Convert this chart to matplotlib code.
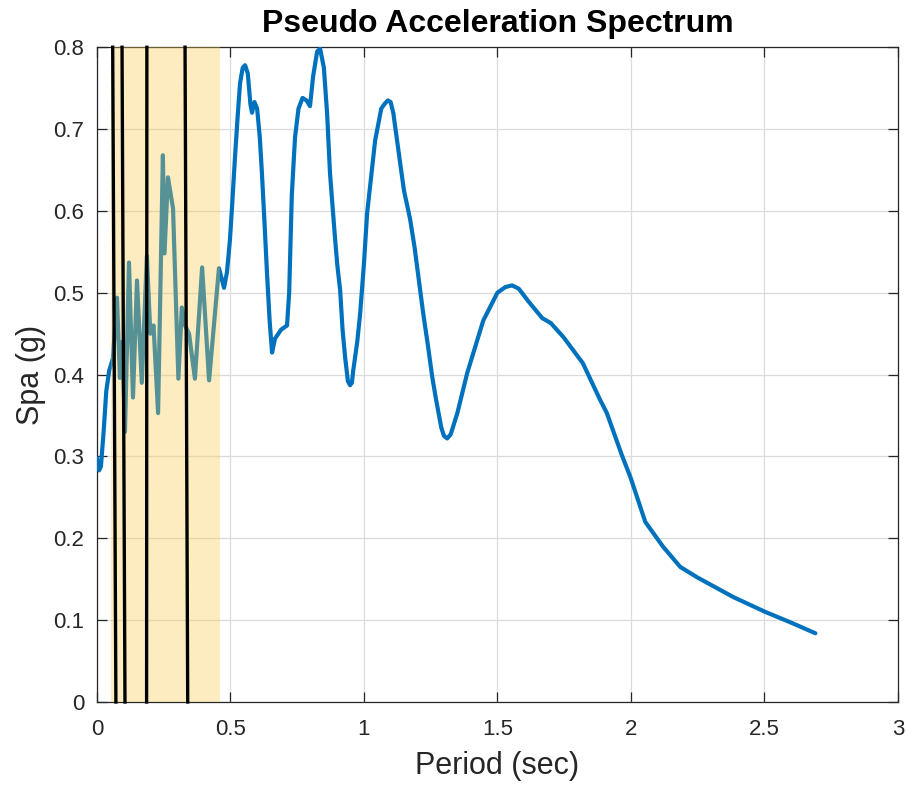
import matplotlib
matplotlib.use("Agg")
import matplotlib.pyplot as plt
from matplotlib.ticker import FuncFormatter

plt.rcParams['font.family'] = ['Liberation Sans', 'DejaVu Sans']

# spectrum
period = [0.000, 0.008, 0.015, 0.025, 0.035, 0.046, 0.060, 0.075, 0.086, 0.095, 0.105,
          0.120, 0.135, 0.150, 0.168, 0.187, 0.200, 0.212, 0.229, 0.247, 0.253, 0.266,
          0.285, 0.305, 0.318, 0.330, 0.345, 0.367, 0.394, 0.420, 0.457, 0.476, 0.487,
          0.498, 0.507, 0.517, 0.527, 0.536, 0.546, 0.555, 0.565, 0.575, 0.581, 0.590,
          0.600, 0.610, 0.618, 0.627, 0.637, 0.647, 0.656, 0.667, 0.690, 0.712, 0.720,
          0.730, 0.742, 0.755, 0.770, 0.785, 0.798, 0.810, 0.825, 0.836, 0.850, 0.862,
          0.873, 0.891, 0.900, 0.911, 0.920, 0.930, 0.940, 0.948, 0.955, 0.960, 0.975,
          0.986, 1.000, 1.012, 1.042, 1.065, 1.078, 1.090, 1.100, 1.110, 1.136, 1.150,
          1.173, 1.190, 1.222, 1.240, 1.256, 1.270, 1.290, 1.300, 1.312, 1.325, 1.350,
          1.387, 1.447, 1.500, 1.530, 1.555, 1.580, 1.615, 1.668, 1.700, 1.747, 1.820,
          1.885, 1.910, 1.968, 1.998, 2.054, 2.120, 2.185, 2.250, 2.385, 2.504, 2.600,
          2.691]
spa = [0.298, 0.283, 0.288, 0.330, 0.380, 0.405, 0.420, 0.494, 0.396, 0.440, 0.330,
       0.537, 0.372, 0.515, 0.390, 0.545, 0.450, 0.460, 0.353, 0.668, 0.548, 0.641,
       0.603, 0.395, 0.482, 0.460, 0.450, 0.395, 0.531, 0.393, 0.530, 0.506, 0.525,
       0.564, 0.610, 0.665, 0.715, 0.756, 0.775, 0.778, 0.768, 0.730, 0.720, 0.733,
       0.725, 0.690, 0.646, 0.590, 0.524, 0.465, 0.427, 0.444, 0.455, 0.460, 0.500,
       0.620, 0.690, 0.725, 0.738, 0.735, 0.728, 0.765, 0.795, 0.798, 0.775, 0.720,
       0.646, 0.570, 0.535, 0.503, 0.455, 0.420, 0.392, 0.387, 0.390, 0.405, 0.440,
       0.475, 0.535, 0.597, 0.686, 0.725, 0.731, 0.735, 0.733, 0.720, 0.658, 0.625,
       0.590, 0.555, 0.475, 0.435, 0.397, 0.370, 0.335, 0.325, 0.322, 0.327, 0.353,
       0.402, 0.466, 0.500, 0.507, 0.509, 0.505, 0.490, 0.469, 0.463, 0.446, 0.414,
       0.369, 0.353, 0.300, 0.275, 0.220, 0.190, 0.165, 0.152, 0.128, 0.110, 0.097,
       0.084]

# vertical marker lines (bottom / top x, picture is slightly skewed)
mark_bottom = [0.071, 0.105, 0.186, 0.340]
mark_top = [0.059, 0.094, 0.187, 0.330]

# shaded period band
band = (0.052, 0.460)

fig = plt.figure(figsize=(9.06, 7.87), dpi=100)
ax = fig.add_axes([0.107, 0.108, 0.884, 0.832])

ax.plot(period, spa, color='#0072BD', linewidth=3.0, zorder=3,
        solid_joinstyle='round', solid_capstyle='round')
ax.axvspan(band[0], band[1], color='#F7CB4D', alpha=0.35, linewidth=0, zorder=4)
for xb, xt in zip(mark_bottom, mark_top):
    ax.plot([xb, xt], [0, 0.8], color='black', linewidth=2.4, zorder=5, clip_on=False)

ax.set_xlim(0, 3)
ax.set_ylim(0, 0.8)
ax.set_xticks([0, 0.5, 1, 1.5, 2, 2.5, 3])
ax.set_yticks([0, 0.1, 0.2, 0.3, 0.4, 0.5, 0.6, 0.7, 0.8])
ax.xaxis.set_major_formatter(FuncFormatter(lambda v, p: '%g' % v))
ax.yaxis.set_major_formatter(FuncFormatter(lambda v, p: '%g' % v))

ax.grid(True, color='#DCDCDC', linewidth=0.9)
ax.set_axisbelow(True)
ax.tick_params(direction='in', length=7, width=0.9, top=True, right=True,
               labelsize=16, colors='#262626')
ax.tick_params(axis='x', pad=12)
ax.tick_params(axis='y', pad=9)
for s in ax.spines.values():
    s.set_color('#262626')
    s.set_linewidth(0.9)

ax.set_xlabel('Period (sec)', fontsize=22, color='#262626', labelpad=8)
ax.set_ylabel('Spa (g)', fontsize=22, color='#262626', labelpad=5)
ax.set_title('Pseudo Acceleration Spectrum', fontsize=23, fontweight='bold', pad=11)

plt.savefig('out.png', dpi=100)
